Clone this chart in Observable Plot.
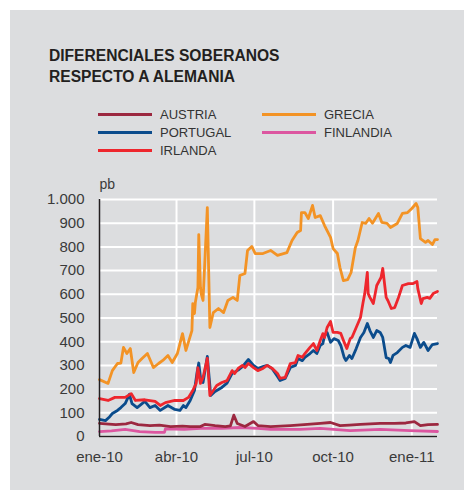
<!DOCTYPE html>
<html><head><meta charset="utf-8">
<script src="https://cdn.jsdelivr.net/npm/d3@7"></script>
<script src="https://cdn.jsdelivr.net/npm/@observablehq/plot@0.6"></script>
<style>
body{margin:0;background:#fff;font-family:"Liberation Sans",Arial,sans-serif;}
#wrap{position:relative;width:464px;height:490px;overflow:hidden;background:#fff;}
#panel{position:absolute;left:10px;top:10px;width:454px;height:480px;background:#dcdddf;}
#title{position:absolute;left:49px;top:45px;font-weight:bold;font-size:15.6px;line-height:21px;color:#231f20;letter-spacing:0;}
.leg{position:absolute;font-size:13px;line-height:14px;color:#333;}
.sw{position:absolute;height:3px;width:54px;}
#chart{position:absolute;left:0;top:170px;}
</style>
</head><body>
<div id="wrap"><div id="panel"></div>
<div id="title">DIFERENCIALES SOBERANOS<br>RESPECTO A ALEMANIA</div>
<div id="legend"></div>
<div id="chart"></div>
</div>
<script>
const title = "DIFERENCIALES SOBERANOS RESPECTO A ALEMANIA";
const seriesNames = ["AUSTRIA","PORTUGAL","IRLANDA","GRECIA","FINLANDIA"];
const seriesColors = ["#9c2840","#0b4c8c","#ee262d","#f39325","#dc56a0"];
const yTicks = [0,100,200,300,400,500,600,700,800,900,1000];
const xTickDates = ["2010-01-01","2010-04-01","2010-07-01","2010-10-01","2011-01-01"];
const xTickLabels = ["ene-10","abr-10","jul-10","oct-10","ene-11"];
const yUnit = "pb";

const austria = [["2010-01-01",55],["2010-01-12",52],["2010-01-20",50],["2010-02-01",53],["2010-02-07",59],["2010-02-15",50],["2010-03-01",46],["2010-03-12",48],["2010-03-25",42],["2010-04-08",44],["2010-04-17",42],["2010-04-29",42],["2010-05-04",51],["2010-05-16",46],["2010-05-28",42],["2010-06-03",45],["2010-06-07",90],["2010-06-11",55],["2010-06-20",42],["2010-06-30",63],["2010-07-05",46],["2010-07-20",42],["2010-08-12",46],["2010-08-28",50],["2010-09-16",55],["2010-09-28",59],["2010-10-09",46],["2010-10-20",48],["2010-11-02",51],["2010-11-25",55],["2010-12-12",55],["2010-12-25",57],["2011-01-04",63],["2011-01-11",46],["2011-01-20",50],["2011-01-31",51]];
const portugal = [["2010-01-01",72],["2010-01-08",67],["2010-01-12",80],["2010-01-16",97],["2010-01-22",110],["2010-01-26",122],["2010-01-31",139],["2010-02-05",178],["2010-02-08",139],["2010-02-14",122],["2010-02-23",148],["2010-03-01",122],["2010-03-07",131],["2010-03-13",110],["2010-03-22",131],["2010-03-30",114],["2010-04-05",110],["2010-04-09",131],["2010-04-12",122],["2010-04-17",152],["2010-04-22",194],["2010-04-25",270],["2010-04-27",310],["2010-04-29",250],["2010-05-02",228],["2010-05-07",338],["2010-05-11",173],["2010-05-16",190],["2010-05-24",207],["2010-05-30",225],["2010-06-05",266],["2010-06-12",280],["2010-06-17",295],["2010-06-24",325],["2010-06-30",300],["2010-07-05",287],["2010-07-11",295],["2010-07-16",300],["2010-07-22",285],["2010-07-28",253],["2010-07-31",236],["2010-08-06",245],["2010-08-12",291],["2010-08-18",300],["2010-08-21",329],["2010-08-26",320],["2010-08-29",334],["2010-09-04",350],["2010-09-08",363],["2010-09-12",350],["2010-09-16",384],["2010-09-19",392],["2010-09-21",426],["2010-09-24",439],["2010-09-28",397],["2010-10-02",413],["2010-10-07",405],["2010-10-10",384],["2010-10-14",333],["2010-10-16",321],["2010-10-20",342],["2010-10-23",329],["2010-10-28",371],["2010-11-02",418],["2010-11-06",439],["2010-11-10",477],["2010-11-13",447],["2010-11-17",418],["2010-11-21",447],["2010-11-25",439],["2010-11-28",418],["2010-12-02",333],["2010-12-05",329],["2010-12-07",312],["2010-12-10",342],["2010-12-15",354],["2010-12-21",376],["2010-12-25",384],["2010-12-30",376],["2011-01-04",435],["2011-01-07",413],["2011-01-11",376],["2011-01-15",397],["2011-01-20",363],["2011-01-25",388],["2011-01-31",392]];
const irlanda = [["2010-01-01",160],["2010-01-11",152],["2010-01-19",165],["2010-01-31",165],["2010-02-07",181],["2010-02-12",152],["2010-02-23",155],["2010-03-07",148],["2010-03-13",131],["2010-03-19",143],["2010-03-30",152],["2010-04-09",152],["2010-04-15",165],["2010-04-20",194],["2010-04-24",224],["2010-04-26",290],["2010-04-29",224],["2010-05-02",249],["2010-05-07",330],["2010-05-10",173],["2010-05-14",194],["2010-05-18",215],["2010-05-24",228],["2010-05-30",236],["2010-06-05",278],["2010-06-08",266],["2010-06-12",287],["2010-06-17",300],["2010-06-20",291],["2010-06-24",308],["2010-06-30",291],["2010-07-05",278],["2010-07-11",287],["2010-07-16",300],["2010-07-22",287],["2010-07-28",266],["2010-07-31",245],["2010-08-06",249],["2010-08-12",308],["2010-08-18",312],["2010-08-21",342],["2010-08-26",334],["2010-08-29",350],["2010-09-04",376],["2010-09-08",392],["2010-09-12",363],["2010-09-16",405],["2010-09-19",434],["2010-09-21",418],["2010-09-24",460],["2010-09-28",485],["2010-10-01",439],["2010-10-06",439],["2010-10-10",435],["2010-10-14",397],["2010-10-17",371],["2010-10-21",413],["2010-10-23",418],["2010-10-28",460],["2010-11-02",502],["2010-11-05",565],["2010-11-07",603],["2010-11-10",692],["2010-11-11",603],["2010-11-13",587],["2010-11-17",561],["2010-11-21",637],["2010-11-26",671],["2010-11-28",709],["2010-12-02",587],["2010-12-04",574],["2010-12-08",540],["2010-12-12",544],["2010-12-16",582],["2010-12-21",637],["2010-12-28",645],["2011-01-02",645],["2011-01-07",654],["2011-01-08",624],["2011-01-12",561],["2011-01-14",582],["2011-01-19",587],["2011-01-22",583],["2011-01-26",603],["2011-01-31",612]];
const grecia = [["2010-01-01",240],["2010-01-11",224],["2010-01-16",278],["2010-01-22",308],["2010-01-26",310],["2010-01-29",376],["2010-02-02",350],["2010-02-06",371],["2010-02-10",270],["2010-02-15",312],["2010-02-20",330],["2010-02-26",350],["2010-03-05",291],["2010-03-11",308],["2010-03-16",321],["2010-03-22",342],["2010-03-27",312],["2010-04-02",350],["2010-04-08",434],["2010-04-12",363],["2010-04-19",447],["2010-04-20",561],["2010-04-22",519],["2010-04-23",565],["2010-04-26",629],["2010-04-27",852],["2010-04-29",629],["2010-04-30",600],["2010-05-02",574],["2010-05-07",966],["2010-05-10",460],["2010-05-14",523],["2010-05-20",540],["2010-05-26",523],["2010-05-31",574],["2010-06-06",587],["2010-06-11",574],["2010-06-14",679],["2010-06-20",688],["2010-06-23",785],["2010-06-28",802],["2010-07-02",772],["2010-07-11",772],["2010-07-20",785],["2010-07-28",764],["2010-08-08",776],["2010-08-14",827],["2010-08-20",861],["2010-08-24",869],["2010-08-25",945],["2010-08-29",945],["2010-09-02",920],["2010-09-07",975],["2010-09-10",924],["2010-09-16",932],["2010-09-21",890],["2010-09-28",840],["2010-10-01",793],["2010-10-06",772],["2010-10-09",713],["2010-10-13",658],["2010-10-18",662],["2010-10-22",692],["2010-10-27",797],["2010-10-30",827],["2010-11-04",903],["2010-11-08",899],["2010-11-12",920],["2010-11-16",900],["2010-11-23",941],["2010-11-27",903],["2010-12-03",899],["2010-12-07",882],["2010-12-15",899],["2010-12-21",941],["2010-12-27",945],["2011-01-01",962],["2011-01-06",983],["2011-01-08",966],["2011-01-11",835],["2011-01-17",819],["2011-01-20",827],["2011-01-25",810],["2011-01-28",831],["2011-01-31",831]];
const finlandia = [["2010-01-01",21],["2010-01-15",24],["2010-01-31",30],["2010-02-17",21],["2010-03-07",17],["2010-03-18",18],["2010-03-19",32],["2010-04-10",30],["2010-04-29",34],["2010-05-24",34],["2010-06-14",38],["2010-07-05",34],["2010-07-20",30],["2010-08-23",30],["2010-09-16",34],["2010-10-21",25],["2010-11-25",30],["2010-12-30",25],["2011-01-31",21]];

const seriesData = [austria, portugal, irlanda, grecia, finlandia];
const drawOrder = [4, 0, 3, 1, 2];

// Legend
const legendPos = [[98,108],[98,126],[98,144],[262,108],[262,126]];
const legend = document.getElementById("legend");
seriesNames.forEach((n, i) => {
  const [lx, ly] = legendPos[i];
  const sw = document.createElement("div");
  sw.className = "sw"; sw.style.left = lx + "px"; sw.style.top = (ly + 5) + "px"; sw.style.background = seriesColors[i];
  legend.appendChild(sw);
  const t = document.createElement("div");
  t.className = "leg"; t.style.left = (lx + 62) + "px"; t.style.top = ly + "px"; t.textContent = n;
  legend.appendChild(t);
});

const parse = d3.utcParse("%Y-%m-%d");
const rows = [];
drawOrder.forEach(i => seriesData[i].forEach(([d, v]) => rows.push({date: parse(d), value: v, serie: seriesNames[i], order: i})));
const xTicks = xTickDates.map(parse);
const fmtY = d => d3.format(",")(d).replace(/,/g, ".");
const fmtX = d => xTickLabels[xTicks.findIndex(t => +t === +d)];

const lineMarks = drawOrder.map(i => Plot.line(rows.filter(r => r.order === i), {
  x: "date", y: "value", stroke: seriesColors[i], strokeWidth: 2.8, strokeLinejoin: "round", strokeLinecap: "round"
}));

const chart = Plot.plot({
  width: 464, height: 300,
  marginLeft: 99, marginRight: 27, marginTop: 29, marginBottom: 34,
  style: {background: "transparent", fontFamily: "'Liberation Sans', Arial, sans-serif", fontSize: "15px", color: "#3a3a3a"},
  x: {type: "utc", domain: [parse("2010-01-01"), parse("2011-01-31")]},
  y: {domain: [0, 1000]},
  marks: [
    Plot.gridY(yTicks, {stroke: "#fff", strokeOpacity: 1, strokeWidth: 2}),
    Plot.gridX(xTicks.slice(1), {stroke: "#fff", strokeOpacity: 1, strokeWidth: 2}),
    Plot.axisY(yTicks, {tickSize: 0, tickPadding: 15, tickFormat: fmtY, label: null, fill: "#3a3a3a"}),
    Plot.axisX(xTicks, {tickSize: 0, tickPadding: 15, tickFormat: fmtX, label: null, fill: "#3a3a3a"}),
    ...lineMarks,
    Plot.ruleX([parse("2010-01-01")], {stroke: "#231f20", strokeWidth: 1.5}),
    Plot.ruleY([0], {stroke: "#231f20", strokeWidth: 1.5}),
    Plot.text([yUnit], {frameAnchor: "top-left", textAnchor: "start", dy: -20, dx: 0, fill: "#3a3a3a", fontSize: 14})
  ]
});
document.getElementById("chart").appendChild(chart);
</script>
</body></html>
